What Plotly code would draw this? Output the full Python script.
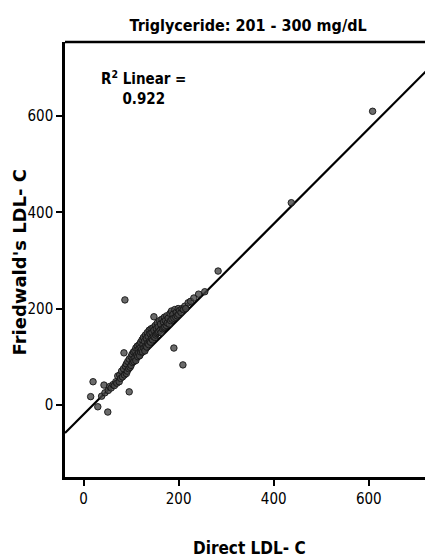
import numpy as np
import plotly.graph_objects as go

# Direct LDL-C (x) vs Friedwald's LDL-C (y), triglyceride 201 - 300 mg/dL
direct_ldl = [15, 20, 30, 43, 51, 38, 45, 52, 55, 58, 62, 65, 68, 70,
              72, 75, 76, 78, 80, 82, 84, 85, 86, 87, 88, 90, 90, 92, 93, 95,
              96, 96, 98, 100, 100, 102, 103, 104, 105, 106, 108, 108, 110, 110,
              112, 113, 114, 115, 116, 117, 118, 119, 120, 120,
              122, 123, 124, 125, 126, 127, 128, 129, 130, 131, 132, 133, 134, 135,
              136, 137, 138, 139, 140, 141, 142, 143, 144, 145, 146, 147, 148, 148,
              150, 151, 152, 153, 154, 155, 156, 157, 158, 160, 161, 162, 163, 165,
              166, 168, 169, 170, 171, 172, 174, 175, 176, 178, 180,
              182, 183, 185, 186, 188, 190, 190, 192, 194, 195, 197, 199, 200, 202,
              205, 207, 209, 210, 213, 215, 220, 225, 232, 242, 255,
              283, 437, 608]
friedwald_ldl = [17, 48, -4, 41, -15, 18, 25, 30, 38, 35, 42, 40, 48, 45,
                 60, 48, 62, 55, 70, 58, 75, 108, 62, 218, 80, 65, 85, 70, 90, 75,
                 27, 95, 78, 100, 82, 105, 88, 95, 110, 90, 112, 98, 92, 118,
                 104, 122, 100, 115, 108, 125, 102, 118, 110, 130,
                 115, 135, 110, 125, 140, 118, 132, 112, 145, 122, 138, 120, 150, 128,
                 142, 125, 155, 132, 148, 130, 158, 138, 150, 135, 160, 142, 183, 155,
                 140, 165, 145, 158, 148, 170, 150, 162, 152, 175, 155, 168, 150, 178,
                 158, 172, 160, 182, 162, 175, 165, 185, 170, 180, 168,
                 190, 175, 195, 178, 188, 118, 180, 198, 182, 192, 185, 200, 188, 196,
                 192, 200, 83, 198, 205, 200, 212, 215, 222, 230, 235,
                 278, 420, 610]

# linear fit shown in the chart
fit_intercept = -20
fit_slope = 0.99
r2_text = "R<sup>2</sup> Linear =<br>0.922"

x_range = [-39, 735]
y_range = [-150, 754]

narrow = "DejaVu Sans Condensed, Liberation Sans Narrow, Arial Narrow, sans-serif"

fig = go.Figure()

line_x = np.array(x_range)
fig.add_trace(go.Scatter(x=line_x, y=fit_intercept + fit_slope * line_x, mode='lines',
                         line=dict(color='black', width=2.2), hoverinfo='skip'))
fig.add_trace(go.Scatter(x=direct_ldl, y=friedwald_ldl, mode='markers',
                         marker=dict(size=6.5, color='rgba(70,70,70,0.8)',
                                     line=dict(color='rgba(20,20,20,0.9)', width=1))))

# top border of the box (right side is cut off in the original)
fig.add_shape(type='line', xref='paper', yref='paper', x0=0, x1=1, y0=1, y1=1,
              line=dict(color='black', width=2.5))

fig.add_annotation(x=0.212, y=0.895, xref='paper', yref='paper', text=r2_text,
                   showarrow=False, align='center', xanchor='center', yanchor='middle',
                   font=dict(family=narrow, size=15, color='black', weight='bold'))

# axis titles as annotations so they sit where the original has them
fig.add_annotation(x=-0.124, y=0.494, xref='paper', yref='paper', text="<b>Friedwald's LDL- C</b>",
                   textangle=-90, showarrow=False, xanchor='center', yanchor='middle',
                   font=dict(family="DejaVu Sans, Arial, sans-serif", size=18, color='black'))
fig.add_annotation(x=0.5, y=-0.163, xref='paper', yref='paper', text="Direct LDL- C",
                   showarrow=False, xanchor='center', yanchor='middle',
                   font=dict(family=narrow, size=17, color='black', weight='bold'))

# page body has an 8px margin, so the figure is offset by 8px
fig.update_layout(
    width=425, height=552,
    margin=dict(l=57, r=0, t=34, b=83),
    paper_bgcolor='white', plot_bgcolor='white',
    showlegend=False,
    title=dict(text="Triglyceride: 201 - 300 mg/dL", x=0.565, xanchor='center',
               y=0.969, yanchor='middle',
               font=dict(family=narrow, size=16, color='black', weight='bold')),
    xaxis=dict(range=x_range, tickvals=[0, 200, 400, 600], showgrid=False, zeroline=False,
               automargin=False,
               showline=True, linecolor='black', linewidth=2.5,
               ticks='outside', ticklen=6, tickwidth=1.5, tickcolor='black',
               tickfont=dict(family=narrow, size=15, color='black')),
    yaxis=dict(range=y_range, tickvals=[0, 200, 400, 600], showgrid=False, zeroline=False,
               automargin=False,
               showline=True, linecolor='black', linewidth=2.5,
               ticks='outside', ticklen=6, tickwidth=1.5, tickcolor='black',
               tickfont=dict(family=narrow, size=15, color='black')),
)

fig.write_html("out.html")
